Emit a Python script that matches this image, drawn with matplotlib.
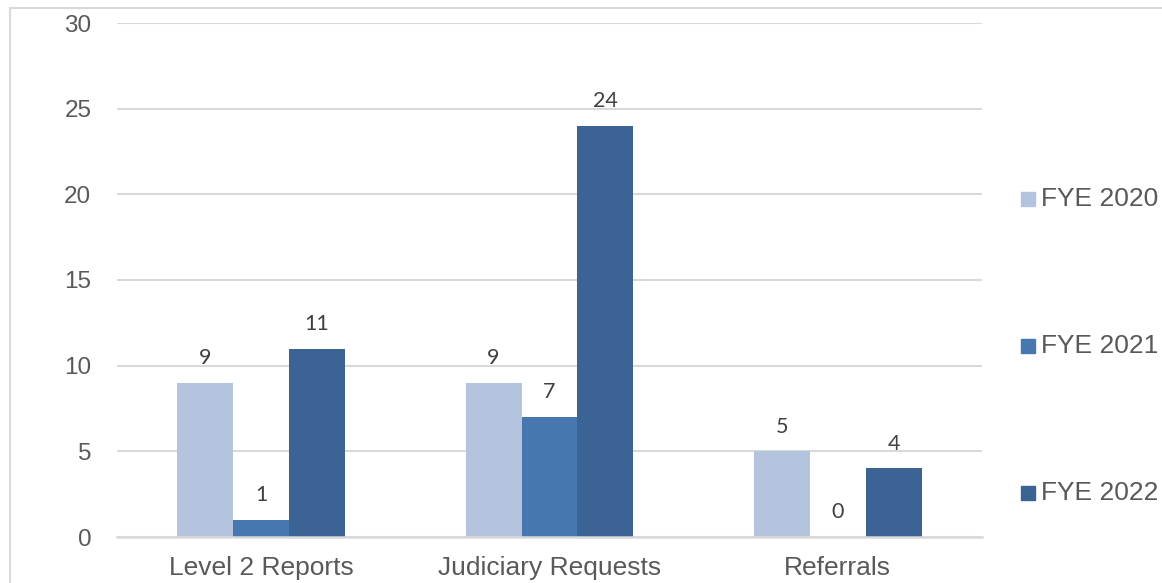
import matplotlib.pyplot as plt
import matplotlib.patches as pat
from matplotlib.lines import Line2D
import numpy as np

categories = ["Level 2 Reports", "Judiciary Requests", "Referrals"]
series = ["FYE 2020", "FYE 2021", "FYE 2022"]
fye2020 = [9, 9, 5]
fye2021 = [1, 7, 0]
fye2022 = [11, 24, 4]
yticks = [0, 5, 10, 15, 20, 25, 30]

colors = ["#B4C3DE", "#4677AF", "#3B6495"]
grey = "#595959"
grid = "#D9D9D9"

plt.rcParams['font.family'] = ['Liberation Sans', 'DejaVu Sans']

fig = plt.figure(figsize=(11.62, 5.83), dpi=100)
ax = fig.add_axes([117 / 1162, 1 - 537 / 583, 865 / 1162, 514 / 583])

x = np.arange(len(categories))
w = 0.194
values = [fye2020, fye2021, fye2022]
for i, vals in enumerate(values):
    pos = x + (i - 1) * w
    ax.bar(pos, vals, width=w, color=colors[i], zorder=3)
    for px, v in zip(pos, vals):
        ax.annotate(str(v), (px, v), xytext=(0, 13.5), textcoords="offset points",
                    ha="center", va="baseline", fontsize=15.5, color="#404040",
                    family=["Lato", "DejaVu Sans"])

ax.set_xlim(-0.5, 2.5)
ax.set_ylim(0, 30)
ax.set_yticks(yticks)
ax.set_xticks(x)
ax.set_xticklabels(categories)
ax.yaxis.grid(True, color=grid, linewidth=1.5, zorder=0)
ax.set_axisbelow(True)
for s in ["top", "right", "left"]:
    ax.spines[s].set_visible(False)
ax.spines["bottom"].set_color(grid)
ax.spines["bottom"].set_linewidth(1.8)
ax.spines["bottom"].set_zorder(4)
ax.tick_params(axis="y", length=0, pad=18.5, labelsize=17.5, labelcolor=grey)
ax.tick_params(axis="x", length=0, pad=14, labelsize=19, labelcolor=grey)

# legend drawn by hand on the right
leg_y = [199, 346, 493]
for i, name in enumerate(series):
    yy = 1 - leg_y[i] / 583
    fig.add_artist(pat.Rectangle((1021 / 1162, yy - 7 / 583), 14 / 1162, 14 / 583,
                                 transform=fig.transFigure, color=colors[i]))
    fig.text(1041 / 1162, yy, name, fontsize=19, color=grey, va="center", ha="left")

# outer border (only top and left visible)
fig.add_artist(Line2D([10 / 1162, 10 / 1162], [0, 1 - 8 / 583], transform=fig.transFigure,
                      color=grid, linewidth=1.5))
fig.add_artist(Line2D([10 / 1162, 1], [1 - 8 / 583, 1 - 8 / 583], transform=fig.transFigure,
                      color=grid, linewidth=1.5))

fig.savefig("out.png", dpi=100)
